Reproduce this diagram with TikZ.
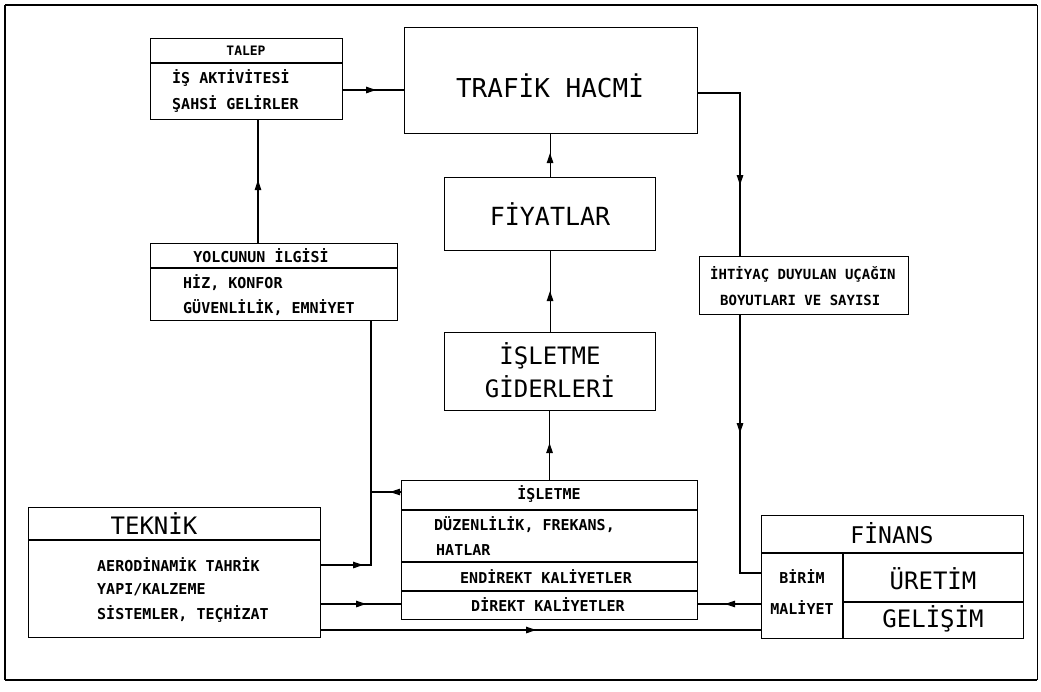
\documentclass[tikz,border=0pt]{standalone}
\usepackage{fontspec}
\usetikzlibrary{decorations.markings,arrows.meta}
\newfontfamily\dotf{DejaVu Sans Mono}
\begin{document}
\begin{tikzpicture}[x=1pt,y=-1pt,
  box/.style={draw, line width=1.1pt, inner sep=0pt, anchor=north west},
  ln/.style={line width=1.1pt},
  hd/.style={font=\dotf\fontsize{24}{24}\selectfont, inner sep=0pt},
  sm/.style={font=\dotf\bfseries\fontsize{15}{15}\selectfont, inner sep=0pt},
  lsm/.style={sm, anchor=west},
  arr/.style={postaction={decorate}, decoration={markings, mark=at position #1 with {\arrow{Triangle[length=10pt,width=6.5pt]}}}}]
\useasboundingbox (0,0) rectangle (1041,691);
% frame
\draw[line width=2pt] (5,5) -- (1037,5);
\draw[line width=2.6pt] (5,5) -- (5,680);
\draw[line width=2.6pt] (5,680) -- (1037,680);
\draw[line width=1pt] (1037,5) -- (1037,680);

% boxes
\node[box, minimum width=192pt, minimum height=81pt] (talep) at (150,38) {};
\draw[ln] (talep.west |- 0,63) -- (talep.east |- 0,63);
\node[sm, font=\dotf\bfseries\fontsize{13}{13}\selectfont] (talepH) at (246,51) {TALEP};
\node[lsm] (talep1) at (172,78) {İŞ AKTİVİTESİ};
\node[lsm] (talep2) at (172,104) {ŞAHSİ GELİRLER};

\node[box, minimum width=293pt, minimum height=106pt] (trafik) at (404,27) {};
\node[hd, font=\dotf\fontsize{26}{26}\selectfont] (trafikT) at (550,86) {TRAFİK HACMİ};

\node[box, minimum width=211pt, minimum height=73pt] (fiyat) at (444,177) {};
\node[hd, font=\dotf\fontsize{25}{25}\selectfont] (fiyatT) at (550,214) {FİYATLAR};

\node[box, minimum width=211pt, minimum height=78pt] (gider) at (444,332) {};
\node[hd] (gider1) at (550,356) {İŞLETME};
\node[hd] (gider2) at (550,387) {GİDERLERİ};

\node[box, minimum width=247pt, minimum height=77pt] (yolcu) at (150,243) {};
\draw[ln] (yolcu.west |- 0,268) -- (yolcu.east |- 0,268);
\node[sm] (yolcuH) at (261,256) {YOLCUNUN İLGİSİ};
\node[lsm] (yolcu1) at (183,283) {HİZ, KONFOR};
\node[lsm] (yolcu2) at (183,308) {GÜVENLİLİK, EMNİYET};

\node[box, minimum width=209pt, minimum height=58pt] (ihtiyac) at (699,256) {};
\node[lsm, font=\dotf\bfseries\fontsize{14}{14}\selectfont] (iht1) at (710,274) {İHTİYAÇ DUYULAN UÇAĞIN};
\node[lsm, font=\dotf\bfseries\fontsize{14}{14}\selectfont] (iht2) at (720,300) {BOYUTLARI VE SAYISI};

\node[box, minimum width=296pt, minimum height=139pt] (isletme) at (401,480) {};
\draw[ln] (isletme.west |- 0,510) -- (isletme.east |- 0,510);
\draw[ln] (isletme.west |- 0,562) -- (isletme.east |- 0,562);
\draw[ln] (isletme.west |- 0,591) -- (isletme.east |- 0,591);
\node[sm] (isletmeH) at (549,494) {İŞLETME};
\node[lsm] (isl1) at (434,525) {DÜZENLİLİK, FREKANS,};
\node[lsm] (isl2) at (436,550) {HATLAR};
\node[sm] (isl3) at (546,577) {ENDİREKT KALİYETLER};
\node[sm] (isl4) at (548,605) {DİREKT KALİYETLER};

\node[box, minimum width=292pt, minimum height=130pt] (teknik) at (28,507) {};
\draw[ln] (teknik.west |- 0,540) -- (teknik.east |- 0,540);
\node[hd] (teknikH) at (154,524) {TEKNİK};
\node[lsm] (tek1) at (97,565) {AERODİNAMİK TAHRİK};
\node[lsm] (tek2) at (97,590) {YAPI/KALZEME};
\node[lsm] (tek3) at (97,614) {SİSTEMLER, TEÇHİZAT};

\node[box, minimum width=262pt, minimum height=123pt] (finans) at (761,515) {};
\draw[ln] (finans.west |- 0,553) -- (finans.east |- 0,553);
\draw[ln] (843,553) -- (843,638);
\draw[ln] (843,602) -- (finans.east |- 0,602);
\node[hd, font=\dotf\fontsize{23}{23}\selectfont] (finansH) at (892,533) {FİNANS};
\node[sm] (birim) at (802,577) {BİRİM};
\node[sm] (maliyet) at (802,608) {MALİYET};
\node[hd] (uretim) at (933,579) {ÜRETİM};
\node[hd] (gelisim) at (933,619) {GELİŞİM};

% connectors
\draw[ln, arr=33pt] (talep.east |- 0,90) -- (trafik.west |- 0,90);
\draw[ln, arr=63pt] (yolcu.north -| 258,0) -- (talep.south -| 258,0);
\draw[ln, arr=134pt] (trafik.east |- 0,93) -- (740,93) -- (ihtiyac.north -| 740,0);
\draw[ln, arr=24pt] (fiyat.north) -- (fiyat.north |- trafik.south);
\draw[ln, arr=41pt] (gider.north) -- (gider.north |- fiyat.south);
\draw[ln, arr=37pt] (isletme.north) -- (isletme.north |- gider.south);
\draw[ln, arr=118pt] (ihtiyac.south -| 740,0) -- (740,573) -- (finans.west |- 0,573);
\draw[ln, arr=42pt] (teknik.east |- 0,565) -- (371,565) -- (yolcu.south -| 371,0);
\draw[ln, arr=11pt] (isletme.west |- 0,492) -- (371,492);
\draw[ln, arr=45pt] (teknik.east |- 0,604) -- (isletme.west |- 0,604);
\draw[ln, arr=36pt] (finans.west |- 0,604) -- (isletme.east |- 0,604);
\draw[ln, arr=215pt] (teknik.east |- 0,630) -- (finans.west |- 0,630);
\end{tikzpicture}
\end{document}
